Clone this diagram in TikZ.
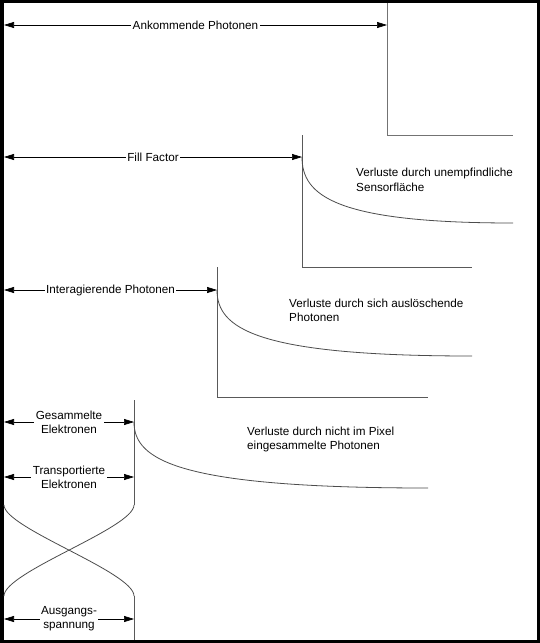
\documentclass[tikz,border=0pt]{standalone}
\usepackage{fontspec}
\setmainfont{Liberation Sans}
\usetikzlibrary{arrows.meta}
\begin{document}
\begin{tikzpicture}[x=1pt,y=-1pt,
  dim/.style={{Triangle[length=10pt,width=6pt]}-{Triangle[length=10pt,width=6pt]}, line width=0.7pt, black},
  lbl/.style={fill=white, inner xsep=1.5pt, inner ysep=0.5pt, font=\fontsize{11.7}{14}\selectfont, align=center},
  axisline/.style={line width=0.8pt, black!55},
  decay/.style={line width=0.8pt, black!70},
  note/.style={anchor=west, align=left, inner sep=0pt, font=\fontsize{11.7}{14.5}\selectfont}]
% frame
\fill[black] (0,0) rectangle (540,643);
\fill[white] (4,3) rectangle (537,640);
\useasboundingbox (0,0) rectangle (540,643);

% named points
\coordinate (L1) at (4,25);   \coordinate (R1) at (387,25);
\coordinate (T1) at (387,3);  \coordinate (C1) at (387,135); \coordinate (E1) at (513,135);

\coordinate (L2) at (4,157);  \coordinate (R2) at (302,157);
\coordinate (T2) at (302,135); \coordinate (C2) at (302,267); \coordinate (E2) at (472,267);
\coordinate (D2) at (513,223);

\coordinate (L3) at (4,290);  \coordinate (R3) at (217,290);
\coordinate (T3) at (217,267); \coordinate (C3) at (217,397); \coordinate (E3) at (428,397);
\coordinate (D3) at (472,356);

\coordinate (L4) at (4,422);  \coordinate (R4) at (134,422);
\coordinate (T4) at (134,400); \coordinate (D4) at (428,488);
\coordinate (L5) at (4,477);  \coordinate (R5) at (134,477);
\coordinate (XR1) at (134,505); \coordinate (XL1) at (4,505);
\coordinate (XR2) at (134,596); \coordinate (XL2) at (4,596);
\coordinate (B4) at (134,640);
\coordinate (L6) at (4,619);  \coordinate (R6) at (134,619);

% step 1
\draw[axisline] (T1) -- (C1) -- (E1);
\draw[dim] (L1) -- node[lbl] {Ankommende Photonen} (R1);

% step 2
\draw[axisline, black!65] (T2) -- (C2) -- (E2);
\draw[decay] (R2) .. controls (302,195) and (334,223) .. (D2);
\draw[dim] (L2) -- node[lbl] {Fill Factor} (R2);
\node[note] (n2) at (356,180) {Verluste durch unempfindliche\\Sensorfläche};

% step 3
\draw[axisline, black!65] (T3) -- (C3) -- (E3);
\draw[decay] (R3) .. controls (217,328) and (255,356) .. (D3);
\draw[dim] (L3) -- node[lbl] {Interagierende Photonen} (R3);
\node[note] (n3) at (289,310.5) {Verluste durch sich auslöschende\\Photonen};

% step 4
\draw[axisline, black!65] (T4) -- (XR1);
\draw[decay] (R4) .. controls (134,460) and (178,488) .. (D4);
\draw[dim] (L4) -- node[lbl] {Gesammelte\\Elektronen} (R4);
\draw[dim] (L5) -- node[lbl] {Transportierte\\Elektronen} (R5);
\node[note] (n4) at (247,439.5) {Verluste durch nicht im Pixel\\eingesammelte Photonen};

% crossing curves
\draw[decay] (XR1) .. controls (134,528) and (4,572) .. (XL2);
\draw[decay] (XL1) .. controls (4,528) and (134,572) .. (XR2);
\draw[axisline, black!65] (XR2) -- (B4);
\draw[dim] (L6) -- node[lbl] {Ausgangs-\\spannung} (R6);
\end{tikzpicture}
\end{document}
